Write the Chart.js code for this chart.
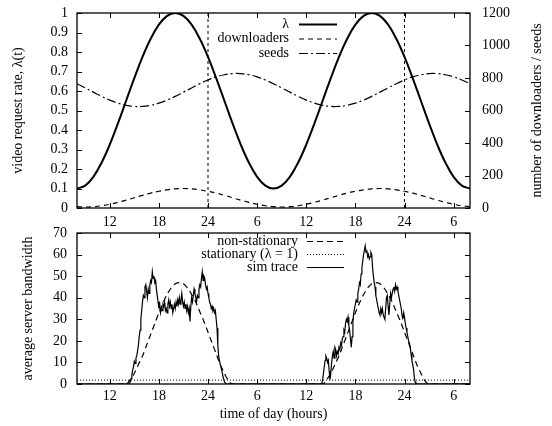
<!DOCTYPE html>
<html lang="en">
<head>
  <meta charset="UTF-8">
  <title>Request rate and server bandwidth</title>
  <style>
    body { margin: 0; background: #fff; }
    .box { position: absolute; left: 0; width: 552px; }
    #topBox { top: 0; height: 232px; }
    #bottomBox { top: 222px; height: 204px; }
  </style>
</head>
<body>
  <div class="box" id="topBox"><canvas id="topChart"></canvas></div>
  <div class="box" id="bottomBox"><canvas id="bottomChart"></canvas></div>

  <script src="https://cdn.jsdelivr.net/npm/chart.js"></script>
  <script>
    // top panel: hourly samples
    const hours = [8,9,10,11,12,13,14,15,16,17,18,19,20,21,22,23,24,25,26,27,28,29,30,31,32,
                   33,34,35,36,37,38,39,40,41,42,43,44,45,46,47,48,49,50,51,52,53,54,55,56];
    const lambdaRate = [0.1,0.115,0.16,0.232,0.325,0.434,0.55,0.666,0.775,0.868,0.94,0.985,1,0.985,0.94,0.868,0.775,0.666,0.55,0.434,0.325,0.232,0.16,0.115,0.1,
                        0.115,0.16,0.232,0.325,0.434,0.55,0.666,0.775,0.868,0.94,0.985,1,0.985,0.94,0.868,0.775,0.666,0.55,0.434,0.325,0.232,0.16,0.115,0.1];
    const downloaders = [8,6,8,14,23,35,48,63,78,92,103,112,118,120,118,112,103,92,78,63,48,35,23,14,8,
                         6,8,14,23,35,48,63,78,92,103,112,118,120,118,112,103,92,78,63,48,35,23,14,8];
    const seeds = [765,739,713,687,664,645,632,625,625,632,645,664,687,713,739,765,788,807,820,827,827,820,807,788,765,
                   739,713,687,664,645,632,625,625,632,645,664,687,713,739,765,788,807,820,827,827,820,807,788,765];
    const dayLines = [24, 48];

    const tickHours = [12, 18, 24, 30, 36, 42, 48, 54];
    const tickLabels = ['12', '18', '24', '6', '12', '18', '24', '6'];

    // bottom panel
    const nsStep = 0.5;
    const nsStarts = [14, 38];
    const nsHump1 = [0,2,5,9,13,18,23,28,33,37.5,41.5,44.5,46.5,47,46.5,44.5,41.5,38,33.5,29,24,19,14,9,5,1.5,0];
    const nsHump2 = [0,2,5,9,13,18,23,28,33,37.5,41.5,44.5,46.5,47,46.5,44.5,41.5,38,33.5,29,24,19,14,9,5,1.5,0];
    const stationaryLevel = 1.8;

    const simStep = 0.1;
    const simStarts = [14.4, 37.9];
    const simHump1 = [0,1,2.5,4,6.5,8,10.5,9.5,12,13,
                      15.5,18,22,25,30,34,38,41,40,45,
                      46,43,40,44,42,46,48,47,52,49,
                      50,47,48,44,41,38,35,37,33,35,
                      34,37,36,38,34,35,33,37,39,36,
                      38,35,37,33,35,37,35,38,36,39,
                      37,40,37,39,42,38,36,38,35,37,
                      34,36,33,35,29,36,40,38,41,44,
                      42,40,38,41,40,44,46,45,49,52,
                      48,50,49,46,44,45,42,40,38,37,
                      35,36,34,35,33,34,30,26,18,13,
                      11,9,7.5,6,4,2.5,1,0.5,0];
    const simHump2 = [0,2,5,8,11,13,12,10,11,6,
                      2,5,10,13,15,12,17,16,13,15,
                      14,17,16,19,18,21,22,25,24,28,
                      30,29,31,27,25,21,17,22,29,33,
                      35,37,39,38,42,44,47,46,51,54,
                      57,60,62,64,61,62,59,60,58,59,
                      61,60,54,50,47,45,41,39,37,35,
                      33,32,35,33,35,32,31,30,35,40,
                      41,36,32,37,42,40,42,44,45,43,
                      46,44,45,43,41,39,37,35,32,30,
                      33,31,28,26,24,22,20,19,17,14,
                      11,9,7,3,1,0];

    const xMin = 8, xMax = 56;

    const pts = (xs, ys) => xs.map((x, i) => ({ x: x, y: ys[i] }));
    const hump = (start, step, vals) => vals.map((v, i) => ({ x: Math.round((start + i * step) * 100) / 100, y: v }));

    Chart.defaults.font.family = '"Liberation Serif", "Times New Roman", serif';
    Chart.defaults.font.size = 14;
    Chart.defaults.color = '#000';

    // gnuplot style frame with inward ticks
    const frame = {
      id: 'frame',
      afterDatasetsDraw(chart) {
        const { ctx, chartArea: a, scales } = chart;
        const len = 5;
        ctx.save();
        ctx.strokeStyle = '#000';
        ctx.setLineDash([]);
        ctx.lineWidth = 1;
        ctx.beginPath();
        scales.x.ticks.forEach(t => {
          const px = Math.round(scales.x.getPixelForValue(t.value)) + 0.5;
          ctx.moveTo(px, a.bottom); ctx.lineTo(px, a.bottom - len);
          ctx.moveTo(px, a.top); ctx.lineTo(px, a.top + len);
        });
        const yl = scales.y, yr = scales.y1 || scales.y;
        yl.ticks.forEach(t => {
          const py = Math.round(yl.getPixelForValue(t.value)) + 0.5;
          ctx.moveTo(a.left, py); ctx.lineTo(a.left + len, py);
        });
        yr.ticks.forEach(t => {
          const py = Math.round(yr.getPixelForValue(t.value)) + 0.5;
          ctx.moveTo(a.right, py); ctx.lineTo(a.right - len, py);
        });
        ctx.stroke();
        ctx.lineWidth = 1.3;
        ctx.strokeRect(a.left, a.top, a.right - a.left, a.bottom - a.top);
        ctx.restore();
      }
    };

    // key box, text right aligned then a line sample
    const keyBox = {
      id: 'keyBox',
      afterDraw(chart, args, o) {
        if (!o.items) return;
        const ctx = chart.ctx;
        ctx.save();
        ctx.font = '14px "Liberation Serif", serif';
        ctx.fillStyle = '#000';
        ctx.textAlign = 'right';
        ctx.textBaseline = 'middle';
        o.items.forEach((it, i) => {
          const y = o.top + i * o.gap;
          ctx.fillText(it.text, o.textRight, y);
          ctx.beginPath();
          ctx.strokeStyle = '#000';
          ctx.lineWidth = it.width;
          ctx.setLineDash(it.dash);
          ctx.moveTo(o.lineLeft, y + 0.5);
          ctx.lineTo(o.lineRight, y + 0.5);
          ctx.stroke();
        });
        if (o.rightTitle) {
          const a = chart.chartArea;
          ctx.translate(o.rightTitleX, (a.top + a.bottom) / 2);
          ctx.rotate(-Math.PI / 2);
          ctx.textAlign = 'center';
          ctx.fillText(o.rightTitle, 0, 0);
        }
        ctx.restore();
      }
    };

    const xAxis = (h, pad, title) => ({
      type: 'linear',
      min: xMin,
      max: xMax,
      afterBuildTicks: s => { s.ticks = tickHours.map(v => ({ value: v })); },
      afterFit: s => { s.height = h; },
      ticks: { padding: pad, autoSkip: false, maxRotation: 0, callback: (v, i) => tickLabels[i] },
      grid: { display: false, drawTicks: false },
      border: { display: false },
      title: title
    });

    const yFit = w => s => { s.width = w; s.paddingTop = 0; s.paddingBottom = 0; };
    const numLabel = v => String(Math.round(v * 10) / 10);

    new Chart(document.getElementById('topChart'), {
      type: 'line',
      data: {
        datasets: [
          { data: pts(hours, lambdaRate), yAxisID: 'y', borderColor: '#000', borderWidth: 2, tension: 0.4 },
          { data: pts(hours, downloaders), yAxisID: 'y1', borderColor: '#000', borderWidth: 1.2, borderDash: [5, 4], tension: 0.4 },
          { data: pts(hours, seeds), yAxisID: 'y1', borderColor: '#000', borderWidth: 1.2, borderDash: [9, 3, 2, 3], tension: 0.4 },
          { data: [{ x: dayLines[0], y: 0 }, { x: dayLines[0], y: 1 }], yAxisID: 'y', borderColor: '#000', borderWidth: 1, borderDash: [3, 3] },
          { data: [{ x: dayLines[1], y: 0 }, { x: dayLines[1], y: 1 }], yAxisID: 'y', borderColor: '#000', borderWidth: 1, borderDash: [3, 3] }
        ]
      },
      options: {
        responsive: true,
        maintainAspectRatio: false,
        animation: false,
        elements: { point: { radius: 0 } },
        layout: { padding: { top: 13, left: 0, right: 0, bottom: 0 } },
        plugins: {
          legend: { display: false },
          tooltip: { enabled: false },
          keyBox: {
            top: 24, gap: 14.5, textRight: 289, lineLeft: 299, lineRight: 337,
            items: [
              { text: 'λ', width: 2, dash: [] },
              { text: 'downloaders', width: 1.2, dash: [5, 4] },
              { text: 'seeds', width: 1.2, dash: [9, 3, 2, 3] }
            ],
            rightTitle: 'number of downloaders / seeds', rightTitleX: 537
          }
        },
        scales: {
          x: xAxis(24, 6, { display: false }),
          y: {
            position: 'left', min: 0, max: 1,
            afterFit: yFit(77),
            ticks: { stepSize: 0.1, padding: 9, autoSkip: false, callback: numLabel },
            grid: { display: false, drawTicks: false },
            border: { display: false },
            title: { display: true, text: 'video request rate, λ(t)', padding: { top: 10, bottom: 0 } }
          },
          y1: {
            position: 'right', min: 0, max: 1200,
            afterFit: yFit(82),
            ticks: { stepSize: 200, padding: 12, autoSkip: false, callback: v => String(v) },
            grid: { display: false, drawTicks: false },
            border: { display: false }
          }
        }
      },
      plugins: [frame, keyBox]
    });

    const simData = [{ x: xMin, y: 0 }]
      .concat(hump(simStarts[0], simStep, simHump1))
      .concat(hump(simStarts[1], simStep, simHump2))
      .concat([{ x: xMax, y: 0 }]);
    const nsData = [{ x: xMin, y: 0 }]
      .concat(hump(nsStarts[0], nsStep, nsHump1))
      .concat(hump(nsStarts[1], nsStep, nsHump2))
      .concat([{ x: xMax, y: 0 }]);

    new Chart(document.getElementById('bottomChart'), {
      type: 'line',
      data: {
        datasets: [
          { data: [{ x: xMin, y: stationaryLevel }, { x: xMax, y: stationaryLevel }], borderColor: '#000', borderWidth: 1, borderDash: [1, 2] },
          { data: nsData, borderColor: '#000', borderWidth: 1.2, borderDash: [6, 4], tension: 0.3 },
          { data: simData, borderColor: '#000', borderWidth: 1.2, tension: 0 }
        ]
      },
      options: {
        responsive: true,
        maintainAspectRatio: false,
        animation: false,
        elements: { point: { radius: 0 } },
        layout: { padding: { top: 11, left: 0, right: 82, bottom: 0 } },
        plugins: {
          legend: { display: false },
          tooltip: { enabled: false },
          keyBox: {
            top: 19, gap: 13, textRight: 298, lineLeft: 307, lineRight: 344,
            items: [
              { text: 'non-stationary', width: 1.2, dash: [6, 4] },
              { text: 'stationary (λ = 1)', width: 1, dash: [1, 2] },
              { text: 'sim trace', width: 1.2, dash: [] }
            ]
          }
        },
        scales: {
          x: xAxis(42, 4, { display: true, text: 'time of day (hours)', padding: { top: 0, bottom: 3.6 } }),
          y: {
            position: 'left', min: 0, max: 70,
            afterFit: yFit(77),
            ticks: { stepSize: 10, padding: 10, autoSkip: false, callback: numLabel },
            grid: { display: false, drawTicks: false },
            border: { display: false },
            title: { display: true, text: 'average server bandwidth', padding: { top: 20, bottom: 0 } }
          }
        }
      },
      plugins: [frame, keyBox]
    });
  </script>
</body>
</html>
